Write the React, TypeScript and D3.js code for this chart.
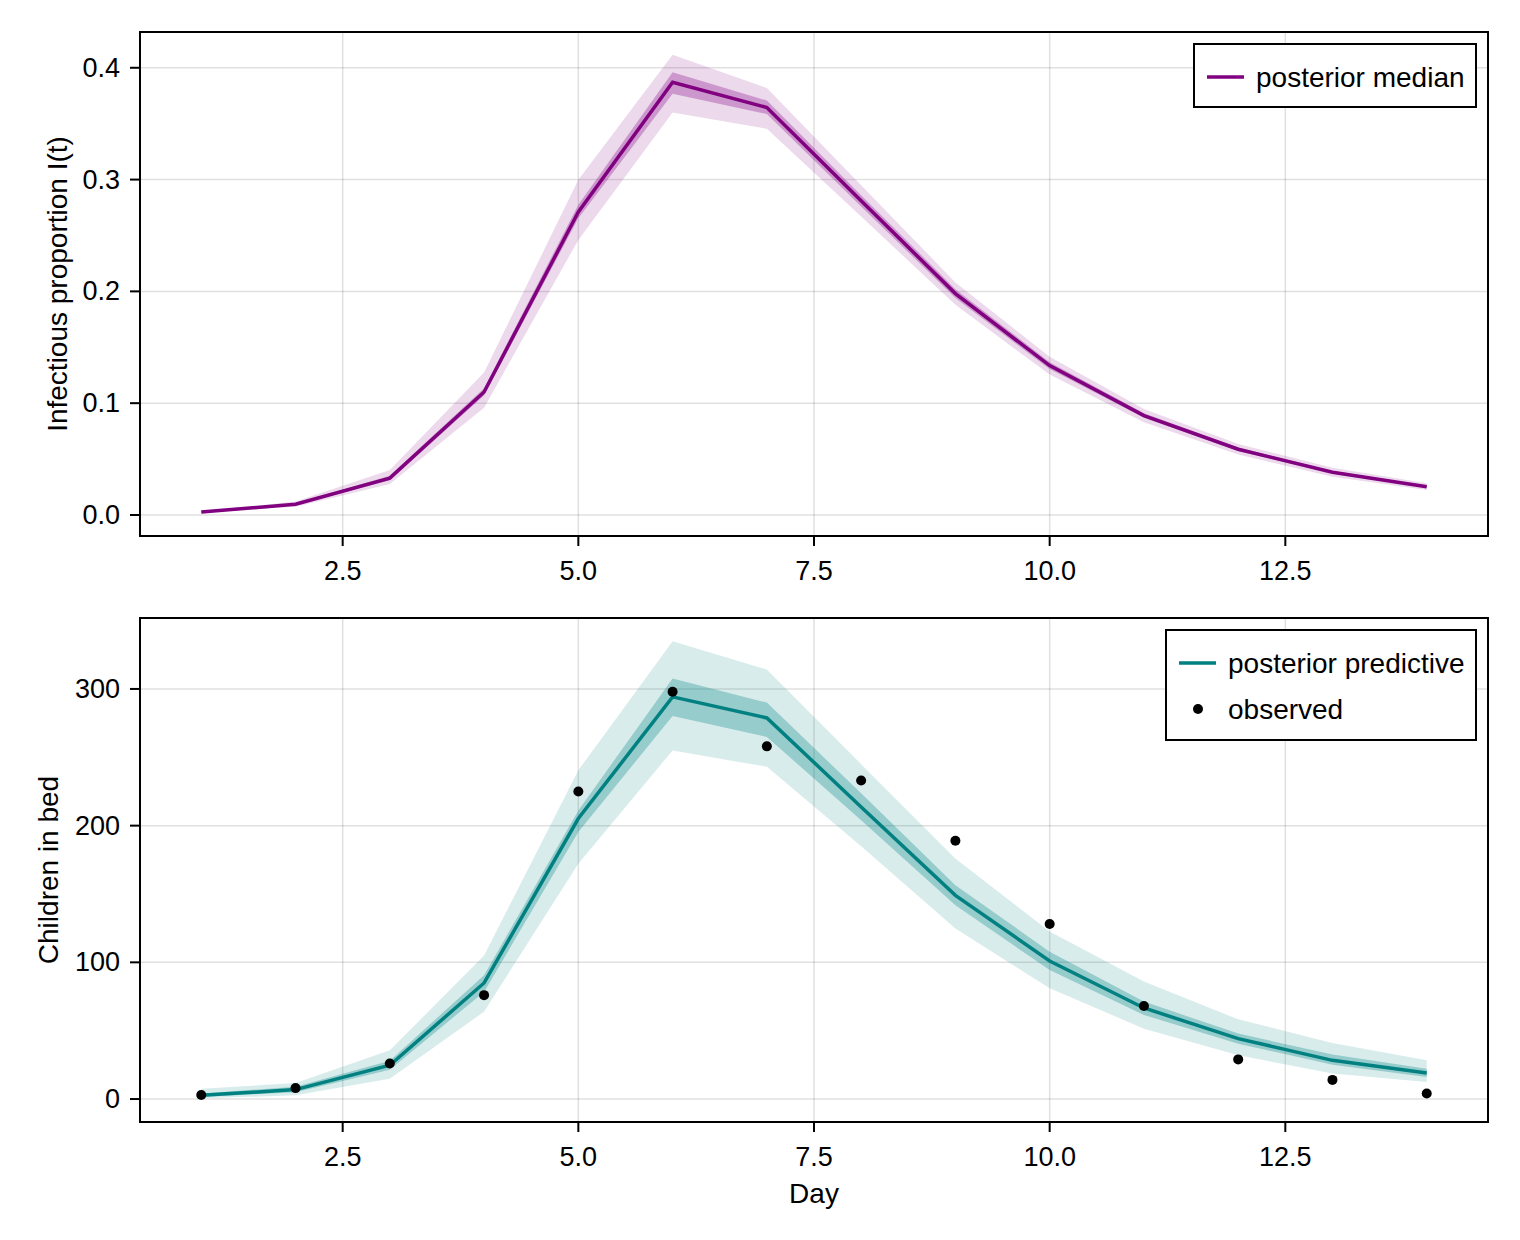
import React from "react";
import * as d3 from "d3";

const days = [1, 2, 3, 4, 5, 6, 7, 8, 9, 10, 11, 12, 13, 14];

// Top panel: infectious proportion I(t)
const iMedian = [0.0027, 0.0096, 0.033, 0.11, 0.271, 0.387, 0.3645, 0.281, 0.198, 0.1336, 0.0889, 0.0588, 0.0382, 0.0253];
const iOuterLo = [0.0022, 0.0074, 0.0277, 0.096, 0.246, 0.36, 0.3454, 0.267, 0.188, 0.1256, 0.0829, 0.054, 0.0342, 0.0223];
const iOuterHi = [0.0032, 0.012, 0.0403, 0.1274, 0.2998, 0.4116, 0.3818, 0.295, 0.208, 0.1416, 0.0949, 0.0636, 0.0422, 0.0283];
const iInnerLo = [0.0025, 0.0088, 0.031, 0.1068, 0.2655, 0.3767, 0.3586, 0.276, 0.194, 0.1306, 0.0869, 0.0573, 0.037, 0.0243];
const iInnerHi = [0.0029, 0.0104, 0.035, 0.1134, 0.2774, 0.396, 0.3707, 0.286, 0.202, 0.1366, 0.0909, 0.0603, 0.0394, 0.0263];

// Bottom panel: children in bed
const predMedian = [2.7, 6.9, 24.7, 84.9, 205.2, 294.2, 278.8, 213.7, 149, 101, 66.6, 44.2, 28.3, 19.0];
const predOuterLo = [0.5, 2.7, 14.9, 63.9, 172.2, 255, 243, 185, 124.7, 81, 51.5, 32, 18.6, 12.4];
const predOuterHi = [7.6, 11.7, 35.6, 105, 240.5, 334.9, 314.2, 245, 175.9, 122.5, 85.9, 58.3, 41, 28.3];
const predInnerLo = [1.5, 5, 21.5, 78.3, 195.4, 280.2, 264.9, 204, 141.7, 94.4, 61.5, 40.5, 25, 16.1];
const predInnerHi = [4, 9, 28, 90.5, 211, 307.6, 290, 223.7, 156.4, 107.8, 71.3, 47.9, 32.5, 22.2];
const observed = [3, 8, 26, 76, 225, 298, 258, 233, 189, 128, 68, 29, 14, 4];

const xTicks = [2.5, 5.0, 7.5, 10.0, 12.5];
const yTicksTop = [0.0, 0.1, 0.2, 0.3, 0.4];
const yTicksBottom = [0, 100, 200, 300];

const FONT = "'Liberation Sans', Arial, Helvetica, sans-serif";
const W = 1520;
const H = 1240;
const LEFT = 140;
const RIGHT = 1488;
const TICK_FS = 27;
const LABEL_FS = 28;

type PanelProps = {
  top: number;
  bottom: number;
  yDomain: [number, number];
  yTicks: number[];
  yFmt: (v: number) => string;
  yLabel: string;
  yLabelX: number;
  color: string;
  median: number[];
  outerLo: number[];
  outerHi: number[];
  innerLo: number[];
  innerHi: number[];
  points?: number[];
  xLabel?: string;
  legend: { x: number; y: number; w: number; h: number; items: { kind: string; label: string }[] };
};

function Panel(p: PanelProps) {
  const x = d3.scaleLinear().domain([0.35, 14.65]).range([LEFT, RIGHT]);
  const y = d3.scaleLinear().domain(p.yDomain).range([p.bottom, p.top]);
  const area = (lo: number[], hi: number[]) =>
    d3
      .area<number>()
      .x((d) => x(d))
      .y0((_, i) => y(lo[i]))
      .y1((_, i) => y(hi[i]))(days) || "";
  const line =
    d3
      .line<number>()
      .x((d) => x(d))
      .y((_, i) => y(p.median[i]))(days) || "";
  const xf = d3.format(".1f");
  const clipId = `clip-${p.top}`;
  return (
    <g>
      <defs>
        <clipPath id={clipId}>
          <rect x={LEFT} y={p.top} width={RIGHT - LEFT} height={p.bottom - p.top} />
        </clipPath>
      </defs>
      {/* grid */}
      {xTicks.map((t) => (
        <line key={"gx" + t} x1={x(t)} x2={x(t)} y1={p.top} y2={p.bottom} stroke="rgba(0,0,0,0.12)" strokeWidth={1.5} />
      ))}
      {p.yTicks.map((t) => (
        <line key={"gy" + t} x1={LEFT} x2={RIGHT} y1={y(t)} y2={y(t)} stroke="rgba(0,0,0,0.12)" strokeWidth={1.5} />
      ))}
      <g clipPath={`url(#${clipId})`}>
        <path d={area(p.outerLo, p.outerHi)} fill={p.color} fillOpacity={0.15} />
        <path d={area(p.innerLo, p.innerHi)} fill={p.color} fillOpacity={0.3} />
        <path d={line} fill="none" stroke={p.color} strokeWidth={3.5} strokeLinejoin="miter" />
        {p.points &&
          p.points.map((v, i) => <circle key={"pt" + i} cx={x(days[i])} cy={y(v)} r={5} fill="black" />)}
      </g>
      {/* spines */}
      <rect x={LEFT} y={p.top} width={RIGHT - LEFT} height={p.bottom - p.top} fill="none" stroke="black" strokeWidth={2} />
      {/* x ticks */}
      {xTicks.map((t) => (
        <g key={"xt" + t}>
          <line x1={x(t)} x2={x(t)} y1={p.bottom} y2={p.bottom + 10} stroke="black" strokeWidth={2} />
          <text x={x(t)} y={p.bottom + 35} textAnchor="middle" dominantBaseline="central" fontSize={TICK_FS} fontFamily={FONT}>
            {xf(t)}
          </text>
        </g>
      ))}
      {/* y ticks */}
      {p.yTicks.map((t) => (
        <g key={"yt" + t}>
          <line x1={LEFT - 10} x2={LEFT} y1={y(t)} y2={y(t)} stroke="black" strokeWidth={2} />
          <text x={LEFT - 20} y={y(t)} textAnchor="end" dominantBaseline="central" fontSize={TICK_FS} fontFamily={FONT}>
            {p.yFmt(t)}
          </text>
        </g>
      ))}
      <text
        transform={`translate(${p.yLabelX},${(p.top + p.bottom) / 2}) rotate(-90)`}
        textAnchor="middle"
        dominantBaseline="central"
        fontSize={LABEL_FS}
        fontFamily={FONT}
      >
        {p.yLabel}
      </text>
      {p.xLabel && (
        <text x={(LEFT + RIGHT) / 2} y={p.bottom + 71} textAnchor="middle" dominantBaseline="central" fontSize={LABEL_FS} fontFamily={FONT}>
          {p.xLabel}
        </text>
      )}
      {/* legend */}
      <rect x={p.legend.x} y={p.legend.y} width={p.legend.w} height={p.legend.h} fill="white" stroke="black" strokeWidth={2} />
      {p.legend.items.map((it, i) => {
        const cy = p.legend.y + 33 + i * 46;
        return (
          <g key={"lg" + i}>
            {it.kind === "line" ? (
              <line x1={p.legend.x + 13} x2={p.legend.x + 50} y1={cy} y2={cy} stroke={p.color} strokeWidth={3.5} />
            ) : (
              <circle cx={p.legend.x + 32} cy={cy} r={5} fill="black" />
            )}
            <text x={p.legend.x + 62} y={cy} dominantBaseline="central" fontSize={LABEL_FS} fontFamily={FONT}>
              {it.label}
            </text>
          </g>
        );
      })}
    </g>
  );
}

export default function App() {
  const f1 = d3.format(".1f");
  const f0 = d3.format("d");
  return (
    <div style={{ position: "absolute", left: 0, top: 0 }}>
      <svg width={W} height={H} viewBox={`0 0 ${W} ${H}`} style={{ display: "block", background: "white" }}>
        <rect width={W} height={H} fill="white" />
        <Panel
          top={32}
          bottom={536}
          yDomain={[-0.0188, 0.432]}
          yTicks={yTicksTop}
          yFmt={f1}
          yLabel="Infectious proportion I(t)"
          yLabelX={57}
          color="#800080"
          median={iMedian}
          outerLo={iOuterLo}
          outerHi={iOuterHi}
          innerLo={iInnerLo}
          innerHi={iInnerHi}
          legend={{ x: 1194, y: 44, w: 282, h: 63, items: [{ kind: "line", label: "posterior median" }] }}
        />
        <Panel
          top={618}
          bottom={1122}
          yDomain={[-16.8, 351.9]}
          yTicks={yTicksBottom}
          yFmt={f0}
          yLabel="Children in bed"
          yLabelX={48}
          color="#008080"
          median={predMedian}
          outerLo={predOuterLo}
          outerHi={predOuterHi}
          innerLo={predInnerLo}
          innerHi={predInnerHi}
          points={observed}
          xLabel="Day"
          legend={{
            x: 1166,
            y: 630,
            w: 310,
            h: 110,
            items: [
              { kind: "line", label: "posterior predictive" },
              { kind: "point", label: "observed" },
            ],
          }}
        />
      </svg>
    </div>
  );
}
